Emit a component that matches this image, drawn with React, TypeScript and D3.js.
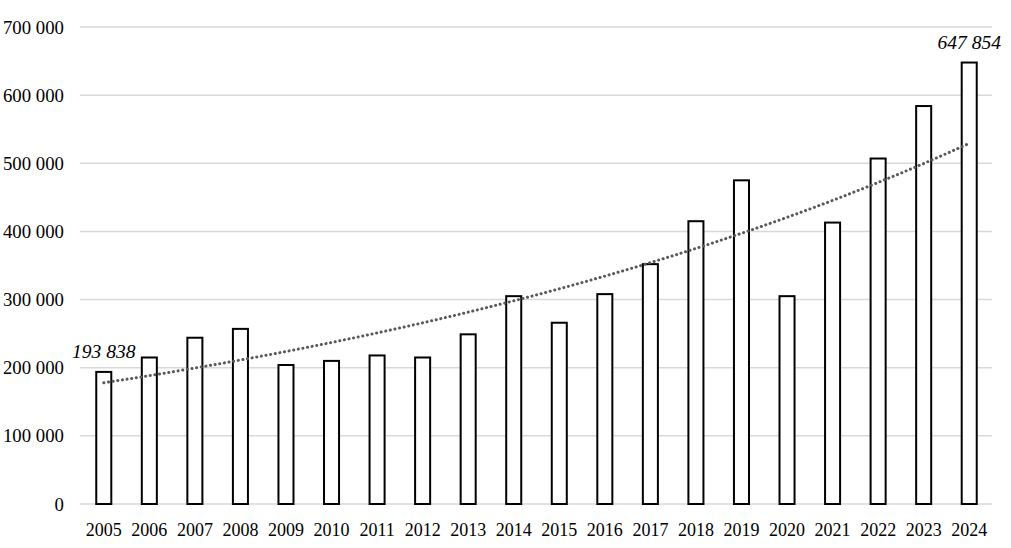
import React, { useRef, useEffect } from 'react';
import * as d3 from 'd3';

const years = [
  '2005', '2006', '2007', '2008', '2009', '2010', '2011', '2012', '2013', '2014',
  '2015', '2016', '2017', '2018', '2019', '2020', '2021', '2022', '2023', '2024',
];

const values = [
  193838, 215000, 244000, 257000, 204000, 210000, 218000, 215000, 249000, 305000,
  266000, 308000, 352000, 415000, 475000, 305000, 413000, 507000, 584000, 647854,
];

const yTicks = [0, 100000, 200000, 300000, 400000, 500000, 600000, 700000];

// only first and last bars carry a value label
const labelledYears = ['2005', '2024'];

const width = 1011;
const height = 548;
const margin = { top: 27, right: 19, bottom: 44, left: 81 };

const fontFamily = '"Times New Roman", "Liberation Serif", serif';

// exponential trend (least squares on ln y), like a spreadsheet trendline
const expFit = (ys: number[]) => {
  const n = ys.length;
  const xs = ys.map((_, i) => i + 1);
  const ls = ys.map(v => Math.log(v));
  const mx = d3.mean(xs) as number;
  const ml = d3.mean(ls) as number;
  let num = 0;
  let den = 0;
  for (let i = 0; i < n; i++) {
    num += (xs[i] - mx) * (ls[i] - ml);
    den += (xs[i] - mx) * (xs[i] - mx);
  }
  const b = num / den;
  const a = ml - b * mx;
  return (x: number) => Math.exp(a + b * x);
};

const App: React.FC = () => {
  const svgRef = useRef<SVGSVGElement | null>(null);

  useEffect(() => {
    if (!svgRef.current) return;

    const svg = d3.select(svgRef.current);
    svg.selectAll('*').remove();

    const fmt = d3.formatLocale({ decimal: ',', thousands: '\u00a0', grouping: [3], currency: ['', ''] }).format(',d');

    const x = d3.scaleBand<string>()
      .domain(years)
      .range([margin.left, width - margin.right])
      .paddingInner(0.67)
      .paddingOuter(0.335);

    const y = d3.scaleLinear()
      .domain([0, 700000])
      .range([height - margin.bottom, margin.top]);

    svg.append('rect')
      .attr('width', width)
      .attr('height', height)
      .attr('fill', '#ffffff');

    // horizontal grid
    svg.append('g')
      .selectAll('line')
      .data(yTicks)
      .join('line')
      .attr('x1', margin.left - 1)
      .attr('x2', width - margin.right)
      .attr('y1', d => y(d))
      .attr('y2', d => y(d))
      .attr('stroke', '#d9d9d9')
      .attr('stroke-width', 1.5);

    // y labels
    svg.append('g')
      .selectAll('text')
      .data(yTicks)
      .join('text')
      .attr('x', 64)
      .attr('y', d => y(d))
      .attr('dy', '0.35em')
      .attr('text-anchor', 'end')
      .attr('font-family', fontFamily)
      .attr('font-size', 18.8)
      .attr('fill', '#000')
      .text(d => fmt(d));

    // x labels
    svg.append('g')
      .selectAll('text')
      .data(years)
      .join('text')
      .attr('x', d => (x(d) as number) + x.bandwidth() / 2)
      .attr('y', height - 12)
      .attr('text-anchor', 'middle')
      .attr('font-family', fontFamily)
      .attr('font-size', 18)
      .attr('fill', '#000')
      .text(d => d);

    // bars
    svg.append('g')
      .selectAll('rect')
      .data(years)
      .join('rect')
      .attr('x', d => x(d) as number)
      .attr('y', (_, i) => y(values[i]))
      .attr('width', x.bandwidth())
      .attr('height', (_, i) => y(0) - y(values[i]))
      .attr('fill', '#ffffff')
      .attr('stroke', '#000000')
      .attr('stroke-width', 2);

    // trend line
    const trend = expFit(values);
    const trendPts: [number, number][] = years.map((yr, i) => [
      (x(yr) as number) + x.bandwidth() / 2,
      y(trend(i + 1)),
    ]);
    svg.append('path')
      .datum(trendPts)
      .attr('fill', 'none')
      .attr('stroke', '#595959')
      .attr('stroke-width', 3)
      .attr('stroke-dasharray', '0.1 4.6')
      .attr('stroke-linecap', 'round')
      .attr('d', d3.line().curve(d3.curveMonotoneX));

    // value labels
    svg.append('g')
      .selectAll('text')
      .data(labelledYears)
      .join('text')
      .attr('x', d => (x(d) as number) + x.bandwidth() / 2)
      .attr('y', d => y(values[years.indexOf(d)]) - 14)
      .attr('text-anchor', 'middle')
      .attr('font-family', fontFamily)
      .attr('font-style', 'italic')
      .attr('font-size', 19.5)
      .attr('fill', '#000')
      .text(d => fmt(values[years.indexOf(d)]));
  }, []);

  return (
    <svg
      ref={svgRef}
      width={width}
      height={height}
      style={{ position: 'absolute', left: 0, top: 0, display: 'block' }}
    />
  );
};

export default App;
